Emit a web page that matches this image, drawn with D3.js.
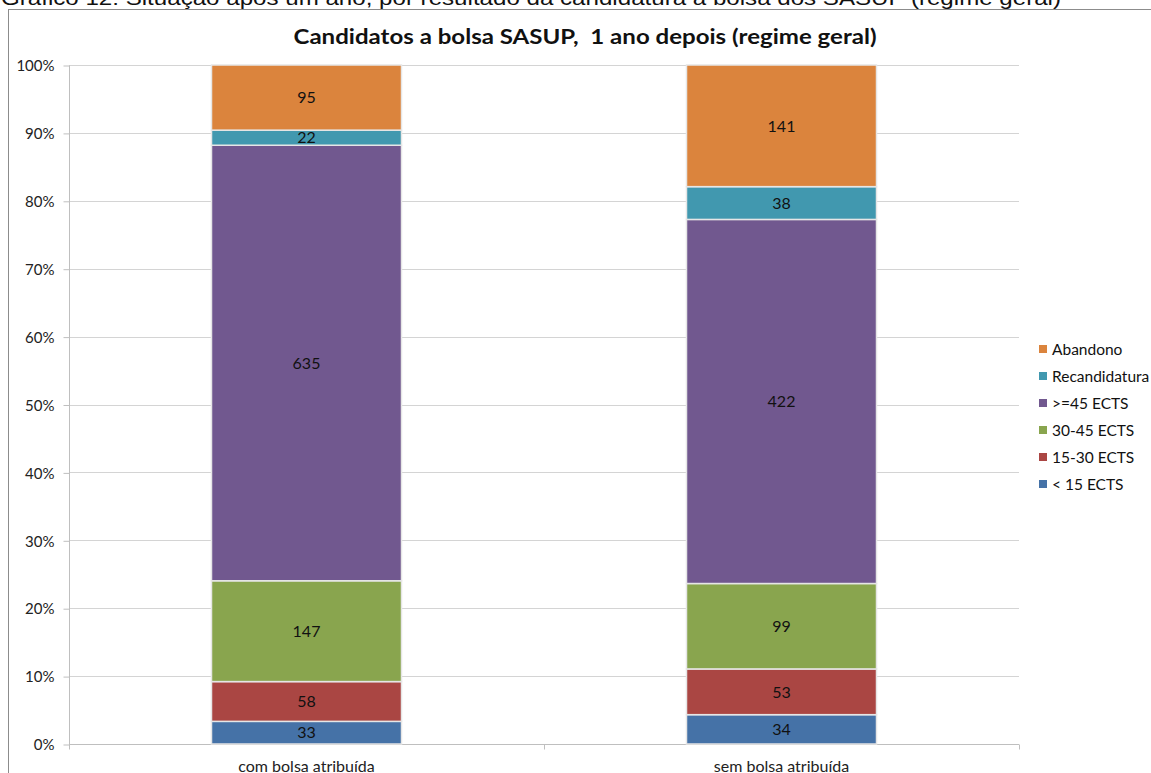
<html>
<head>
<meta charset="utf-8">
<script src="https://cdn.jsdelivr.net/npm/d3@7"></script>
<style>
  body { margin:0; background:#fff; }
  svg { display:block; }
  .axis text { font-family: Lato, "Open Sans", sans-serif; font-size:15px; fill:#222; }
  .lbl { font-family: Lato, "Open Sans", sans-serif; font-size:16px; fill:#111; }
  .leg { font-family: Lato, "Open Sans", sans-serif; font-size:15.5px; fill:#111; }
</style>
</head>
<body>
<div id="container"></div>
<script>
// data
var categories = ["com bolsa atribuída", "sem bolsa atribuída"];
var seriesNames = ["< 15 ECTS", "15-30 ECTS", "30-45 ECTS", ">=45 ECTS", "Recandidatura", "Abandono"];
var seriesColors = ["#4572A7", "#AA4643", "#89A54E", "#71588F", "#4198AF", "#DB843D"];
var comBolsa = [33, 58, 147, 635, 22, 95];
var semBolsa = [34, 53, 99, 422, 38, 141];
var yTicks = [0, 0.1, 0.2, 0.3, 0.4, 0.5, 0.6, 0.7, 0.8, 0.9, 1];

var W = 1151, H = 773;
var svg = d3.select("#container").append("svg")
  .attr("width", W).attr("height", H);

// caption above the chart frame (cut off at the top, as in the source)
svg.append("text")
  .attr("x", 1).attr("y", 5)
  .attr("font-family", "Liberation Sans, Arial, sans-serif")
  .attr("font-size", 21)
  .attr("fill", "#111")
  .attr("textLength", 1060)
  .attr("lengthAdjust", "spacingAndGlyphs")
  .text("Gráfico 12: Situação após um ano, por resultado da candidatura à bolsa dos SASUP  (regime geral)");

// chart frame
svg.append("rect")
  .attr("x", 8.5).attr("y", 9.5)
  .attr("width", 1200).attr("height", 800)
  .attr("fill", "#fff").attr("stroke", "#8c8c8c");

svg.append("text")
  .attr("x", 585).attr("y", 44)
  .attr("text-anchor", "middle")
  .attr("font-family", "Lato, sans-serif")
  .attr("font-weight", "bold")
  .attr("font-size", 21.5)
  .attr("fill", "#111")
  .style("white-space", "pre")
  .attr("textLength", 583)
  .attr("lengthAdjust", "spacingAndGlyphs")
  .text("Candidatos a bolsa SASUP,  1 ano depois (regime geral)");

var x0 = 69, x1 = 1019, y0 = 744, y1 = 65;

var x = d3.scaleBand().domain(categories).range([x0, x1])
  .paddingInner(0.6).paddingOuter(0.3);
var y = d3.scaleLinear().domain([0, 1]).range([y0, y1]);

// gridlines
svg.append("g").selectAll("line").data(yTicks).enter().append("line")
  .attr("x1", x0).attr("x2", x1)
  .attr("y1", function(d){ return Math.round(y(d)) + 0.5; })
  .attr("y2", function(d){ return Math.round(y(d)) + 0.5; })
  .attr("stroke", "#d4d4d4");

// y axis
var yAxis = d3.axisLeft(y).tickValues(yTicks).tickFormat(d3.format(".0%")).tickSize(6).tickPadding(9);
var gy = svg.append("g").attr("class", "axis")
  .attr("transform", "translate(" + (x0 + 0.5) + ",0.5)")
  .call(yAxis);
gy.selectAll("path, line").attr("stroke", "#bfbfbf");
gy.select(".domain").attr("d", "M0," + y0 + "V" + y1);
gy.selectAll("text").attr("dy", "0.35em");

// x axis
var gx = svg.append("g").attr("class", "axis")
  .attr("transform", "translate(0," + (y0 + 0.5) + ")");
gx.append("line").attr("x1", x0).attr("x2", x1).attr("stroke", "#bfbfbf");
gx.selectAll(".tk").data([x0, (x0 + x1) / 2, x1]).enter().append("line")
  .attr("x1", function(d){ return d + 0.5; }).attr("x2", function(d){ return d + 0.5; })
  .attr("y1", 0).attr("y2", 5).attr("stroke", "#bfbfbf");
gx.selectAll(".cat").data(categories).enter().append("text")
  .attr("x", function(d){ return x(d) + x.bandwidth() / 2; })
  .attr("y", 27)
  .attr("text-anchor", "middle")
  .style("font-size", "16px")
  .text(function(d){ return d; });

// stacked, normalised bars
var values = [comBolsa, semBolsa];
categories.forEach(function(cat, ci){
  var vals = values[ci];
  var total = d3.sum(vals);
  var cum = 0;
  var segs = vals.map(function(v, si){
    var s = { cat: cat, si: si, v: v, a: cum / total, b: (cum + v) / total };
    cum += v;
    return s;
  });
  var g = svg.append("g");
  g.selectAll("rect").data(segs).enter().append("rect")
    .attr("x", x(cat))
    .attr("width", x.bandwidth())
    .attr("y", function(d){ return y(d.b); })
    .attr("height", function(d){ return y(d.a) - y(d.b); })
    .attr("fill", function(d){ return seriesColors[d.si]; })
    .attr("stroke", "#e6e6e6")
    .attr("stroke-width", 1.5);
  g.selectAll("text").data(segs).enter().append("text")
    .attr("class", "lbl")
    .attr("x", x(cat) + x.bandwidth() / 2)
    .attr("y", function(d){ return (y(d.a) + y(d.b)) / 2; })
    .attr("dy", "0.36em")
    .attr("text-anchor", "middle")
    .text(function(d){ return d.v; });
});

// legend (top to bottom: reversed series order)
var legendItems = seriesNames.map(function(n, i){ return { name: n, color: seriesColors[i] }; }).reverse();
var lg = svg.append("g").attr("transform", "translate(1039,349)");
var li = lg.selectAll("g").data(legendItems).enter().append("g")
  .attr("transform", function(d, i){ return "translate(0," + (i * 27) + ")"; });
li.append("rect").attr("x", 0).attr("y", -4).attr("width", 8).attr("height", 8)
  .attr("fill", function(d){ return d.color; });
li.append("text").attr("class", "leg").attr("x", 13).attr("dy", "0.36em")
  .text(function(d){ return d.name; });
</script>
</body>
</html>
